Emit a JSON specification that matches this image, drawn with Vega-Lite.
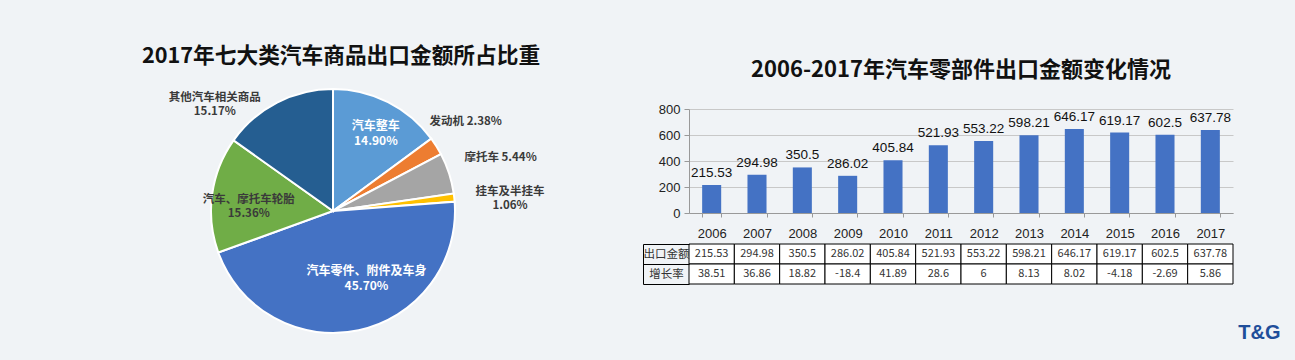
{
  "$schema": "https://vega.github.io/schema/vega-lite/v6.json",
  "background": "#f0f3f6",
  "padding": {"left": 113, "top": 45, "right": 15, "bottom": 25},
  "bounds": "flush",
  "config": {"view": {"stroke": null}, "font": "Noto Sans CJK SC"},
  "datasets": {
    "pie": [
      {"序号": 1, "类别": "汽车整车", "占比": 14.90, "标签": "汽车整车\n14.90%"},
      {"序号": 2, "类别": "发动机", "占比": 2.38, "标签": "发动机 2.38%"},
      {"序号": 3, "类别": "摩托车", "占比": 5.44, "标签": "摩托车 5.44%"},
      {"序号": 4, "类别": "挂车及半挂车", "占比": 1.06, "标签": "挂车及半挂车\n1.06%"},
      {"序号": 5, "类别": "汽车零件、附件及车身", "占比": 45.70, "标签": "汽车零件、附件及车身\n45.70%"},
      {"序号": 6, "类别": "汽车、摩托车轮胎", "占比": 15.36, "标签": "汽车、摩托车轮胎\n15.36%"},
      {"序号": 7, "类别": "其他汽车相关商品", "占比": 15.17, "标签": "其他汽车相关商品\n15.17%"}
    ],
    "parts": [
      {"年份": "2006", "出口金额": 215.53, "增长率": 38.51},
      {"年份": "2007", "出口金额": 294.98, "增长率": 36.86},
      {"年份": "2008", "出口金额": 350.5, "增长率": 18.82},
      {"年份": "2009", "出口金额": 286.02, "增长率": -18.4},
      {"年份": "2010", "出口金额": 405.84, "增长率": 41.89},
      {"年份": "2011", "出口金额": 521.93, "增长率": 28.6},
      {"年份": "2012", "出口金额": 553.22, "增长率": 6},
      {"年份": "2013", "出口金额": 598.21, "增长率": 8.13},
      {"年份": "2014", "出口金额": 646.17, "增长率": 8.02},
      {"年份": "2015", "出口金额": 619.17, "增长率": -4.18},
      {"年份": "2016", "出口金额": 602.5, "增长率": -2.69},
      {"年份": "2017", "出口金额": 637.78, "增长率": 5.86}
    ]
  },
  "spacing": 136,
  "hconcat": [
    {
      "width": 440,
      "height": 204,
      "title": {"text": "2017年七大类汽车商品出口金额所占比重", "fontSize": 21.7, "fontWeight": "bold", "color": "#111111", "offset": -16, "dx": 8},
      "data": {"name": "pie"},
      "encoding": {
        "theta": {"field": "占比", "type": "quantitative", "stack": true},
        "order": {"field": "序号", "type": "quantitative"},
        "detail": {"field": "类别", "type": "nominal"}
      },
      "layer": [
        {
          "mark": {"type": "arc", "outerRadius": 122, "stroke": "white", "strokeWidth": 2},
          "encoding": {
            "color": {"field": "类别", "type": "nominal", "legend": null,
              "scale": {"domain": ["汽车整车", "发动机", "摩托车", "挂车及半挂车", "汽车零件、附件及车身", "汽车、摩托车轮胎", "其他汽车相关商品"],
                        "range": ["#5b9bd5", "#ed7d31", "#a5a5a5", "#ffc000", "#4472c4", "#70ad47", "#255e91"]}}
          }
        },
        {
          "mark": {"type": "text", "radius": 95, "lineBreak": "\n", "fill": "white", "fontSize": 12, "fontWeight": "bold", "lineHeight": 15},
          "encoding": {"text": {"condition": {"test": "datum['类别'] === '汽车整车'", "field": "标签", "type": "nominal"}, "value": ""}}
        },
        {
          "mark": {"type": "text", "radius": 64, "dx": 20, "dy": -3, "lineBreak": "\n", "fill": "white", "fontSize": 12, "fontWeight": "bold", "lineHeight": 15},
          "encoding": {"text": {"condition": {"test": "datum['类别'] === '汽车零件、附件及车身'", "field": "标签", "type": "nominal"}, "value": ""}}
        },
        {
          "mark": {"type": "text", "radius": 85, "lineBreak": "\n", "fill": "#3a3a3a", "fontSize": 11.5, "fontWeight": "bold", "lineHeight": 14},
          "encoding": {"text": {"condition": {"test": "datum['类别'] === '汽车、摩托车轮胎'", "field": "标签", "type": "nominal"}, "value": ""}}
        },
        {
          "mark": {"type": "text", "radius": 140, "dx": -54, "dy": 11, "lineBreak": "\n", "fill": "#3a3a3a", "fontSize": 11.5, "fontWeight": "bold", "lineHeight": 14},
          "encoding": {"text": {"condition": {"test": "datum['类别'] === '其他汽车相关商品'", "field": "标签", "type": "nominal"}, "value": ""}}
        },
        {
          "mark": {"type": "text", "radius": 172, "dx": -13, "dy": 2, "fill": "#3a3a3a", "fontSize": 11.5, "fontWeight": "bold"},
          "encoding": {"text": {"condition": {"test": "datum['类别'] === '发动机'", "field": "标签", "type": "nominal"}, "value": ""}}
        },
        {
          "mark": {"type": "text", "radius": 172, "dx": 4, "fill": "#3a3a3a", "fontSize": 11.5, "fontWeight": "bold"},
          "encoding": {"text": {"condition": {"test": "datum['类别'] === '摩托车'", "field": "标签", "type": "nominal"}, "value": ""}}
        },
        {
          "mark": {"type": "text", "radius": 172, "dx": 6, "lineBreak": "\n", "fill": "#3a3a3a", "fontSize": 11.5, "fontWeight": "bold", "lineHeight": 14},
          "encoding": {"text": {"condition": {"test": "datum['类别'] === '挂车及半挂车'", "field": "标签", "type": "nominal"}, "value": ""}}
        }
      ]
    },
    {
      "spacing": -2,
      "resolve": {"scale": {"x": "independent", "y": "independent"}},
      "vconcat": [
        {
          "width": 544,
          "height": 104,
          "title": {"text": "2006-2017年汽车零部件出口金额变化情况", "fontSize": 22, "fontWeight": "bold", "color": "#111111", "offset": 21},
          "data": {"name": "parts"},
          "encoding": {
            "x": {"field": "年份", "type": "ordinal", "scale": {"paddingInner": 0.58, "paddingOuter": 0.29},
              "axis": {"title": null, "labelAngle": 0, "labelFont": "Liberation Sans", "labelFontSize": 13, "labelColor": "#222222", "tickBand": "extent", "tickSize": 4, "tickColor": "#999999", "domainColor": "#999999", "labelPadding": 10}},
            "y": {"field": "出口金额", "type": "quantitative", "scale": {"domain": [0, 800]},
              "axis": {"values": [0, 200, 400, 600, 800], "title": null, "labelFont": "Liberation Sans", "labelFontSize": 13, "labelColor": "#222222", "tickColor": "#999999", "tickSize": 5, "domainColor": "#999999", "gridColor": "#c8c8c8", "labelPadding": 4}}
          },
          "layer": [
            {"mark": {"type": "bar", "color": "#4472c4"}},
            {"mark": {"type": "text", "dy": -8, "baseline": "alphabetic", "fontSize": 13.5, "font": "Liberation Sans", "color": "#111111"},
             "encoding": {"text": {"field": "出口金额", "type": "nominal"}}}
          ]
        },
        {
          "width": 544,
          "height": 40,
          "data": {"name": "parts"},
          "transform": [{"fold": ["出口金额", "增长率"], "as": ["指标", "数值"]}],
          "title": {"text": "T&G", "orient": "bottom", "anchor": "end", "fontSize": 20, "fontWeight": "bold", "color": "#1f4e9a", "font": "Liberation Sans", "offset": 38, "dx": 47, "baseline": "top"},
          "encoding": {
            "x": {"field": "年份", "type": "ordinal", "axis": null, "scale": {"padding": 0}},
            "y": {"field": "指标", "type": "nominal", "sort": ["出口金额", "增长率"], "scale": {"padding": 0},
              "axis": {"title": null, "offset": 46, "domainColor": "black", "tickColor": "black", "tickSize": -46, "tickBand": "extent", "labelAlign": "center", "labelPadding": 23, "labelFontSize": 11.5, "labelColor": "#333333", "labelFont": "Noto Sans CJK SC"}}
          },
          "layer": [
            {"mark": {"type": "rect", "fill": "white", "stroke": "black", "strokeWidth": 1}},
            {"mark": {"type": "text", "fontSize": 11, "color": "#333333", "font": "Noto Sans CJK SC"},
             "encoding": {"text": {"field": "数值", "type": "nominal"}}}
          ]
        }
      ]
    }
  ]
}
